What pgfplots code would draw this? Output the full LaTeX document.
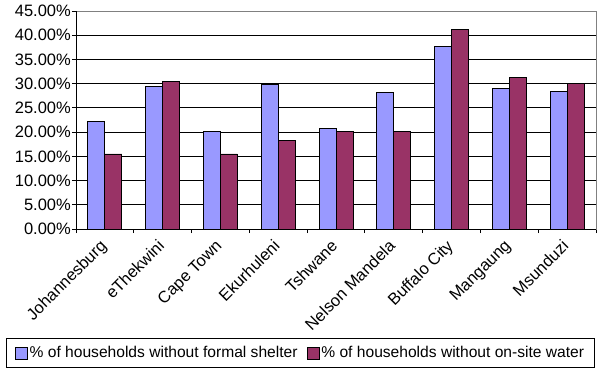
\documentclass[border=0pt]{standalone}
\usepackage{pgfplots}
\pgfplotsset{compat=1.18}
\usepackage{fontspec}
\setmainfont{Liberation Sans}
\definecolor{shelter}{RGB}{153,153,255}
\definecolor{water}{RGB}{153,51,102}
\definecolor{frame}{RGB}{128,128,128}
\begin{document}
\begin{tikzpicture}
\begin{axis}[
  name=ax,
  at={(0,0)}, anchor=south west,
  scale only axis, width=520bp, height=218bp,
  ybar=0pt, bar width=17bp,
  xmin=-0.5, xmax=8.5, ymin=0, ymax=45,
  xtick={0,...,8},
  xticklabels={Johannesburg,eThekwini,Cape Town,Ekurhuleni,Tshwane,Nelson Mandela,Buffalo City,Mangaung,Msunduzi},
  major x tick style={draw=none},
  minor xtick={-0.5,0.5,...,8.5},
  ytick={0,5,...,45},
  yticklabels={0.00\%,5.00\%,10.00\%,15.00\%,20.00\%,25.00\%,30.00\%,35.00\%,40.00\%,45.00\%},
  tick pos=left,
  tick align=outside,
  major tick length=4bp, minor tick length=4bp,
  tick style={black, line width=0.8bp},
  ymajorgrids, grid style={black, line width=0.8bp},
  axis line style={frame, line width=0.8bp},
  tick label style={font=\fontsize{16.5bp}{18bp}\selectfont},
  yticklabel style={inner sep=1bp},
  xticklabel style={xshift=-6bp, yshift=-4bp, rotate=45, anchor=north east, inner sep=1bp},
  legend columns=2,
  legend style={at={(axis description cs:0.4317,-0.569)}, anchor=center,
    draw=black, line width=0.8bp,
    font=\fontsize{15.6bp}{17bp}\selectfont,
    inner xsep=8bp, inner ysep=6bp,
    /tikz/every even column/.append style={column sep=7bp}},
  legend image code/.code={\draw[#1, line width=0.8bp] (0bp,-6bp) rectangle (12bp,6bp);},
]
\addplot[draw=black, line width=0.8bp, fill=shelter] coordinates {
  (0,22.2) (1,29.5) (2,20.2) (3,29.8) (4,20.8) (5,28.1) (6,37.7) (7,29.0) (8,28.4)};
\addplot[draw=black, line width=0.8bp, fill=water] coordinates {
  (0,15.5) (1,30.4) (2,15.5) (3,18.2) (4,20.1) (5,20.1) (6,41.2) (7,31.3) (8,30.1)};
\legend{\% of households without formal shelter,\% of households without on-site water}
% left and bottom axis lines in black
\draw[black, line width=0.8bp] (rel axis cs:0,1) -- (rel axis cs:0,0) -- (rel axis cs:1,0);
\end{axis}
\pgfresetboundingbox
\path[use as bounding box] (ax.south west) ++(-76bp,-141bp) rectangle ++(597bp,370bp);
\end{tikzpicture}
\end{document}
